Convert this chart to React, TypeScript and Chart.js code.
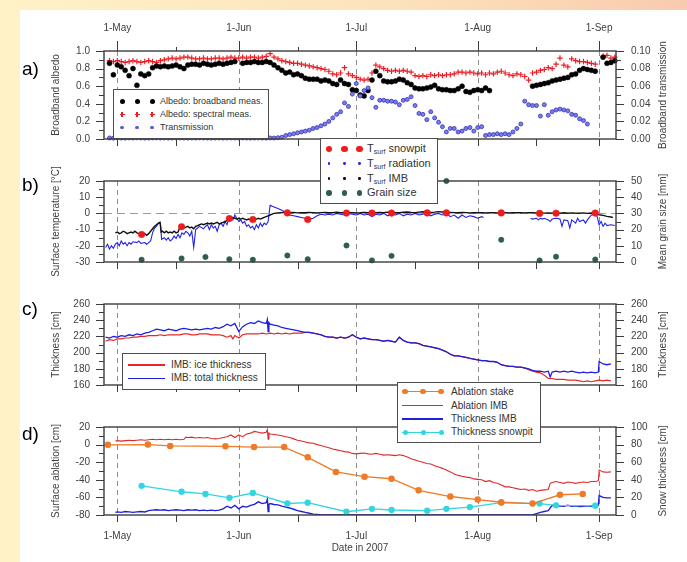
import React, { useEffect, useRef } from 'react';
import { Chart, registerables } from 'chart.js';

Chart.register(...registerables);

const FONT = '"Liberation Sans", Arial, Helvetica, sans-serif';
const INK = '#404040';
const FRAME = '#3c3c3c';

// x axis: days after 1 May 2007
const X_MIN = -3.4;
const X_MAX = 127.3;
const MONTH_DAYS = [0, 31, 61, 92, 123];
const MONTH_LABELS = ['1-May', '1-Jun', '1-Jul', '1-Aug', '1-Sep'];
const MID_MONTH_DAYS = [15, 46, 76, 107];

// ---------- panel a ----------
const ALBEDO_START_DAY = -2;
const ALBEDO_SPECTRAL: (number | null)[] = [
  0.89, 0.88, 0.89, 0.88, 0.87, 0.88, 0.89, 0.88, 0.87, 0.88, 0.89, 0.88, 0.87, 0.89,
  0.90, 0.91, 0.92, 0.91, 0.92, 0.93, 0.93, 0.92, 0.91, 0.91, 0.92, 0.91, 0.91, 0.92,
  0.92, 0.91, 0.92, 0.93, 0.92, 0.92, 0.93, 0.92, 0.93, 0.93, 0.92, 0.93, 0.94,
  0.97,
  0.93, 0.91, 0.89, 0.88, 0.87, 0.86, 0.86, 0.85, 0.84, 0.83, 0.82, 0.81, 0.80, 0.79,
  0.77, 0.74, 0.73, 0.75, 0.81, 0.74, 0.72, 0.70, 0.68, 0.67, 0.68, 0.75, 0.84, 0.82,
  0.80, 0.78, 0.77, 0.78, 0.77, 0.78, 0.77, 0.76, 0.72, 0.71, 0.72, 0.71, 0.73, 0.72,
  0.73, 0.72, 0.73, 0.73, 0.74, 0.76, 0.76, 0.75, 0.76, 0.75, 0.74, 0.75, 0.73, 0.75,
  0.74, 0.76, 0.77, 0.75, 0.73, 0.72, 0.74, 0.73, 0.71, 0.67, 0.75, 0.76, 0.78, 0.79,
  0.81, 0.80, 0.85, 0.92, 0.84, 0.82, 0.91, 0.89, 0.88, 0.88, 0.87, 0.86, 0.85,
  null, 0.94, 0.95, 0.92, 0.93,
];
const ALBEDO_BROADBAND: (number | null)[] = [
  0.86, 0.73, 0.84, 0.82, 0.78, 0.72, 0.80, 0.61, 0.74, 0.72, 0.74, 0.81, 0.83, 0.82,
  0.83, 0.82, 0.83, 0.84, 0.82, 0.80, 0.84, 0.85, 0.85, 0.84, 0.86, 0.85, 0.84, 0.85,
  0.86, 0.85, 0.86, 0.87, 0.88, null, 0.86, 0.87, 0.87, 0.88, 0.87, 0.87, 0.88, 0.87,
  0.84, 0.81, 0.78, 0.75, 0.76, 0.73, 0.74, 0.72, 0.69, 0.68, 0.68, 0.68, 0.66, 0.67,
  0.66, 0.63, 0.62, 0.67, 0.63, 0.62, 0.56, 0.55, 0.50, 0.49, 0.55, 0.67, 0.77, 0.72,
  0.66, 0.65, 0.65, 0.66, 0.68, 0.67, 0.64, 0.62, 0.58, 0.57, 0.57, 0.58, 0.59, 0.61,
  0.57, 0.56, 0.56, 0.55, 0.55, 0.57, 0.60, 0.54, 0.53, 0.55, 0.56, 0.55, 0.58, 0.55,
  null, null, null, null, null, null, null, null, null, null,
  0.60, 0.61, 0.62, 0.63, 0.64, 0.66, 0.67, 0.68, 0.69, 0.70, 0.73, 0.74, 0.78, 0.80,
  0.79, 0.78, 0.77, null, 0.93, 0.86, 0.87, 0.89,
];
const TRANSMISSION_START_DAY = -2;
const TRANSMISSION: number[] = [
  0.0012, 0.0010, 0.0013, 0.0011, 0.0010, 0.0012, 0.0011, 0.0013, 0.0012, 0.0010, 0.0011,
  0.0012, 0.0013, 0.0011, 0.0012, 0.0010, 0.0011, 0.0013, 0.0012, 0.0011, 0.0010, 0.0012,
  0.0011, 0.0013, 0.0012, 0.0011, 0.0010, 0.0011, 0.0012, 0.0010, 0.0011, 0.0012, 0.0011,
  0.0010, 0.0012, 0.0011, 0.0010, 0.0011, 0.0012, 0.0011, 0.0010, 0.0012, 0.0011, 0.0015,
  0.002, 0.004, 0.005, 0.006, 0.007, 0.008, 0.009, 0.010, 0.012, 0.013, 0.015, 0.017,
  0.020, 0.024, 0.028, 0.031, 0.041, 0.037, 0.051, 0.063, 0.049, 0.055, 0.058, 0.047,
  0.036, 0.044, 0.044, 0.043, 0.043, 0.042, 0.039, 0.044, 0.045, 0.048, 0.038, 0.029,
  0.028, 0.022, 0.031, 0.024, 0.019, 0.014, 0.008, 0.012, 0.012, 0.008, 0.009, 0.012,
  0.013, 0.009, 0.013, 0.014, 0.004, 0.005, 0.005, 0.006, 0.005, 0.006, 0.005, 0.008,
  0.012, 0.017, 0.043, 0.039, 0.038, 0.038, 0.026, 0.039, 0.027, 0.031, 0.033, 0.034,
  0.033, 0.032, 0.028, 0.027, 0.023, 0.021, 0.017,
];

// ---------- panel b ----------
const SNOWPIT_DAYS = [6.2, 16.4, 22.5, 28.6, 34.6, 43.4, 48.6, 58.5, 65, 70, 79.1, 84, 90, 98, 107.8, 112, 122];
const TSURF_SNOWPIT_DAYS = [6.2, 16.4, 28.6, 34.6, 43.4, 48.6, 58.5, 65, 70, 79.1, 84, 98, 107.8, 112, 122];
const TSURF_SNOWPIT = [-13, -8.2, -3.2, -3.8, 0.3, -3.8, 0.2, 0.2, 0.2, 0.3, 0.3, 0.3, 0, 0.1, 0.2];
const GRAIN_DAYS = [6.2, 16.4, 22.5, 28.6, 34.6, 43.4, 48.6, 58.5, 65, 70, 84, 98, 107.8, 112, 122];
const GRAIN_SIZE = [1.4, 2.2, 3.1, 1.7, 1.4, 4, 1.7, 10.2, 1, 3.8, 50, 13.7, 1, 3.3, 1.5];
const TSURF_RADIATION: [number, number | null][] = [
  [-3, -21], [-2.5, -19], [-2, -22], [-1.5, -20], [-1, -21.5], [-0.5, -19], [0, -18], [0.5, -20],
  [1, -17], [1.5, -19], [2, -18], [2.5, -20], [3, -18], [3.5, -19], [4, -17.5], [5, -18],
  [5.5, -17], [6, -18.5], [7, -18], [7.5, -19], [8, -18], [8.5, -17], [9, -12], [9.5, -9],
  [10, -8], [10.5, -6], [11, -6], [11.3, -16], [12, -15], [12.5, -16.5], [13, -15], [13.5, -17],
  [14, -16], [14.5, -14], [15, -15.5], [15.5, -13], [16, -15], [16.5, -12], [17, -13], [17.5, -11],
  [18, -12], [18.5, -14], [19, -11], [19.5, -21], [20, -10], [20.5, -9], [21, -8], [22, -9.5],
  [22.5, -8], [23, -7], [23.5, -10], [24, -7], [24.5, -9], [25, -8], [25.5, -11], [26, -7],
  [26.5, -6], [27, -8], [27.5, -5], [28, -7], [28.5, -3], [29, -2], [29.5, -4], [30, -1],
  [30.5, -3], [31, -5], [31.5, -4], [32, -6], [32.5, -5], [33, -8], [33.5, -7], [34, -9],
  [34.5, -8], [35, -10], [35.5, -7], [36, -9], [36.5, -6], [37, -8], [37.5, -6], [38, -7],
  [38.5, -5], [39, 5], [40, 4], [41, 3], [42, 2], [43, 0.5], [43.5, 0], [44, -1], [45, -1.5],
  [46, -2], [47, -2.5], [48, -3], [49, -3.5], [50, -3], [51, -1.5], [52, -0.5], [53, -1],
  [54, -0.5], [55, -1], [56, 0], [57, -0.5], [58, -1], [59, 0], [60, -0.5], [61, -1], [62, 0],
  [63, -1], [64, -0.5], [65, -2], [66, -0.5], [67, -1], [68, 0], [69, -1.5], [70, -0.5],
  [71, -1], [72, 0], [73, -1.5], [74, -0.5], [75, -1], [76, 0], [77, -1], [78, -0.5], [79, 0],
  [80, -1.5], [81, -0.5], [82, 0], [83, -1], [84, 0], [85, -2], [86, -1], [87, -3], [88, -1],
  [89, -2.5], [90, -1.5], [91, -2], [92, -3], [93, -2], [93.5, -2.5], [99, null],
  [105.5, -3], [106, -3.5], [107, -3], [107.5, -4], [108, -3], [108.5, -3.5], [109, -3],
  [110, -4], [110.5, -5], [111, -3.5], [112, -3], [113, -3.5], [113.5, -8], [114, -4],
  [115, -4.5], [115.5, -9], [116, -4], [117, -6], [117.5, -3], [118, -5], [119, -4],
  [119.5, -6], [120, -4], [121, -1], [122, -0.5], [122.5, -2], [123, -7], [123.5, -5],
  [124, -8], [124.5, -6], [125, -7.5], [126, -7], [127, -7.5],
];
const TSURF_IMB: [number, number][] = [
  [-0.5, -12], [0, -11.5], [0.5, -12.5], [1, -12], [1.5, -11], [2, -11.5], [2.5, -12.5], [3, -12],
  [3.5, -11.5], [4, -12], [4.5, -11], [5, -12], [5.5, -12.5], [6, -13], [6.5, -12], [7, -12.5],
  [7.5, -13.5], [8, -12.5], [8.5, -11], [9, -9.5], [9.5, -8], [10, -7], [10.5, -6], [10.9, -5.5],
  [11.2, -11.5], [11.5, -11], [12, -12], [12.5, -11], [13, -12], [13.5, -11.5], [14, -12],
  [14.5, -11], [15, -12], [15.5, -11.5], [16, -8.5], [16.5, -8], [17, -9], [17.5, -8.5], [18, -8],
  [18.5, -9], [19, -8.5], [19.5, -9.5], [20, -8], [20.5, -7.5], [21, -7], [21.5, -6.5], [22, -7],
  [22.5, -6.5], [23, -6], [23.5, -6.5], [24, -6], [24.5, -6.5], [25, -6], [25.5, -5.5], [26, -6.5],
  [26.5, -6], [27, -5.5], [27.5, -5], [28, -4.5], [28.5, -3.5], [29, -3], [29.5, -2.5], [30, -3],
  [30.5, -3.5], [31, -3], [31.5, -3.5], [32, -3], [32.5, -3.5], [33, -4], [33.5, -3.5], [34, -4],
  [34.5, -4.5], [35, -4], [35.5, -3.5], [36, -3], [36.5, -3.5], [37, -3], [37.5, -2.5], [38, -2],
  [38.5, -1.5], [39, -1], [39.5, -0.5], [40, 0], [41, 0.3], [42, 0.5], [43, 0.5], [44, 0.4],
  [45, 0.6], [46, 0.3], [47, 0.5], [48, 0.4], [49, 0.6], [50, 0.5], [51, 0.3], [52, 0.5],
  [53, 0.6], [54, 0.4], [55, 0.5], [56, 0.7], [57, 0.5], [58, 0.4], [59, 0.6], [60, 0.5],
  [61, 0.3], [62, 0.4], [63, 0.6], [64, 0.5], [65, 0.7], [66, 0.4], [67, 0.6], [68, 0.5],
  [69, 0.8], [70, 0.6], [71, 0.4], [72, 0.5], [73, 0.7], [74, 0.9], [75, 0.6], [76, 0.5],
  [77, 0.8], [78, 1.0], [79, 0.7], [80, 0.6], [81, 0.8], [82, 1.1], [83, 0.9], [84, 0.7],
  [85, 0.6], [86, 0.5], [87, 0.4], [88, 0.6], [89, 0.5], [90, 0.3], [91, 0.4], [92, 0.5],
  [93, 0.4], [94, 0.3], [95, 0.5], [96, 0.4], [97, 0.3], [98, 0.5], [99, 0.4], [100, 0.3],
  [101, 0.4], [102, 0.5], [103, 0.4], [104, 0.3], [105, 0.4], [106, 0.5], [107, 0.3], [108, 0.4],
  [109, 0.2], [110, 0.3], [111, 0.1], [112, 0.3], [113, 0.2], [114, 0.4], [115, 0.1], [116, 0.3],
  [117, 0.2], [118, 0.1], [119, 0.3], [120, 0.0], [121, 0.2], [122, -0.3], [123, -0.8],
  [124, -1.2], [125, -1.8], [126, -2.2], [126.5, -2.5],
];

// ---------- panel c ----------
const TOTAL_THICKNESS: [number, number][] = [
  [-3, 219], [-2, 218], [-1, 220], [0, 219], [1, 221], [2, 220], [3, 222], [4, 221], [5, 223],
  [6, 222], [7, 224], [8, 225], [9, 227], [10, 229], [11, 228], [12, 227], [13, 229], [14, 228],
  [15, 227], [16, 229], [17, 230], [18, 229], [19, 228], [20, 229], [21, 228], [22, 229],
  [23, 230], [24, 229], [25, 231], [26, 230], [27, 232], [28, 235], [29, 233], [30, 236],
  [31, 226], [32, 232], [33, 235], [34, 237], [35, 236], [36, 239], [37, 237], [38, 236],
  [38.3, 241], [38.5, 226], [38.7, 237], [39, 235], [40, 234], [41, 233], [42, 231], [43, 230],
  [44, 229], [45, 228], [46, 227], [47, 226], [48, 225], [49, 225], [50, 224], [51, 223],
  [52, 222], [53, 220], [54, 219], [55, 219], [56, 218], [57, 219], [58, 218], [59, 219],
  [60, 222], [61, 219], [62, 217], [63, 218], [64, 217], [65, 216], [66, 216], [67, 215],
  [68, 214], [69, 215], [70, 214], [71, 213], [72, 219], [73, 215], [74, 213], [75, 212],
  [76, 212], [77, 211], [78, 209], [79, 208], [80, 207], [81, 206], [82, 205], [83, 203],
  [84, 201], [85, 198], [86, 196], [87, 196], [88, 195], [89, 194], [90, 193], [91, 192],
  [92, 191], [93, 190], [94, 190], [95, 189], [96, 189], [97, 188], [98, 185], [99, 184],
  [100, 183], [101, 183], [102, 182], [103, 182], [104, 181], [105, 180], [106, 178], [107, 177],
  [108, 177], [109, 176], [110, 177], [110.5, 170], [111, 176], [112, 177], [113, 176],
  [114, 177], [115, 176], [116, 177], [117, 176], [118, 175], [119, 176], [120, 175], [121, 176],
  [122, 175], [122.8, 176], [123, 189], [124, 186], [125, 185], [126, 186],
];
const ICE_THICKNESS: [number, number][] = [
  [-3, 214], [-2, 216], [-1, 215], [0, 217], [1, 217], [2, 218], [3, 218], [4, 219], [5, 219],
  [6, 220], [7, 220], [8, 221], [9, 221], [10, 221], [11, 222], [12, 221], [13, 222], [14, 222],
  [15, 222], [16, 222], [17, 223], [18, 223], [19, 222], [20, 222], [21, 223], [22, 223],
  [23, 223], [24, 222], [25, 222], [26, 222], [27, 221], [28, 219], [29, 221], [29.5, 217],
  [30, 221], [31, 218], [32, 222], [33, 223], [34, 223], [35, 223], [36, 223], [37, 224],
  [38, 223], [39, 224], [40, 223], [41, 224], [42, 223], [43, 224], [44, 223], [45, 224],
  [46, 224], [47, 224], [48, 225], [49, 225], [50, 224], [51, 223], [52, 222], [53, 220],
  [54, 219], [55, 219], [56, 218], [57, 219], [58, 218], [59, 219], [60, 222], [61, 219],
  [62, 217], [63, 218], [64, 217], [65, 216], [66, 216], [67, 215], [68, 214], [69, 215],
  [70, 214], [71, 213], [72, 219], [73, 215], [74, 213], [75, 212], [76, 212], [77, 211],
  [78, 209], [79, 208], [80, 207], [81, 206], [82, 205], [83, 203], [84, 201], [85, 198],
  [86, 196], [87, 196], [88, 195], [89, 194], [90, 193], [91, 192], [92, 191], [93, 190],
  [94, 190], [95, 189], [96, 189], [97, 188], [98, 185], [99, 184], [100, 183], [101, 183],
  [102, 182], [103, 182], [104, 181], [105, 179], [106, 177], [107, 176], [108, 175], [109, 172],
  [110, 168], [111, 168], [112, 167], [113, 167], [114, 167], [115, 166], [116, 166], [117, 166],
  [118, 165], [119, 164], [120, 165], [121, 164], [122, 165], [123, 166], [124, 165], [125, 166],
  [126, 165],
];

// ---------- panel d ----------
const STAKE_DAYS = [-2.4, 7.8, 13.5, 27.6, 34.9, 42.6, 48.6, 55.8, 63.1, 70, 76.9, 85, 92, 98, 106, 113, 118.8];
const ABLATION_STAKE = [-0.3, 0, -1.5, -2, -2.8, -2.8, -14.5, -31, -36.5, -38.8, -52, -59, -62.5, -65.5, -67, -57, -56];
const SNOWPIT_THICKNESS = [33.2, 26.4, 24, 19.5, 25, 13.1, 14, 3.7, 7, 5.7, 4.9, 7, 9, 14, 13, 11, 10.6];
const ABLATION_IMB: [number, number][] = [
  [-0.5, 4], [0, 4.5], [1, 4], [2, 4.5], [3, 5], [4, 4.5], [5, 5], [6, 5.5], [7, 5], [8, 5.5],
  [9, 6], [10, 5.5], [11, 6], [12, 5.5], [13, 6], [14, 5.5], [15, 6], [16, 5.5], [17, 6],
  [17.5, 8.5], [18, 8], [19, 8.5], [20, 7.5], [21, 8], [22, 7.5], [23, 8], [24, 7], [25, 6.5],
  [26, 7], [27, 8], [28, 9], [29, 11], [30, 8], [31, 11], [32, 9], [33, 12], [34, 13], [35, 15],
  [36, 14], [37, 13], [38, 14], [38.3, 17], [38.5, 6], [38.7, 13], [39, 12], [40, 11.5],
  [41, 11], [42, 10], [43, 9], [44, 8], [45, 6.5], [46, 5], [47, 4], [48, 3], [49, 2],
  [50, 1.5], [51, 0], [52, -1], [53, -2.5], [54, -3.5], [55, -5], [56, -6], [57, -7], [58, -8],
  [59, -8.5], [60, -10], [61, -10.5], [62, -10], [63, -9.5], [64, -10.5], [65, -11], [66, -10],
  [67, -11], [68, -12], [69, -11.5], [70, -12], [71, -12.5], [72, -11.5], [73, -12.5], [74, -14],
  [75, -16], [76, -17.5], [77, -19], [78, -20], [79, -21.5], [80, -22], [81, -24], [82, -25.5],
  [83, -27], [84, -29], [85, -31], [86, -33.5], [87, -35], [88, -36], [89, -37], [90, -37.5],
  [91, -39], [92, -39.5], [93, -40], [94, -42], [95, -41], [96, -43], [97, -44], [98, -46],
  [99, -48], [100, -48], [101, -49], [102, -50], [103, -51], [104, -50.5], [105, -52],
  [106, -51], [107, -53], [108, -52], [109, -51.5], [110, -51], [110.5, -44], [111, -43],
  [112, -42], [113, -43], [114, -44], [115, -42.5], [116, -43], [117, -44], [118, -43],
  [119, -42.5], [120, -43], [121, -42], [122, -42], [122.8, -41], [123, -29], [124, -31],
  [125, -31.5], [126, -31],
];
const SNOW_THICKNESS_IMB: [number, number][] = [
  [-0.5, 3], [0, 3.5], [1, 3], [2, 4], [3, 3.5], [4, 3], [5, 3.5], [6, 4], [7, 3.5], [8, 5],
  [9, 5.5], [10, 6], [11, 5.5], [12, 6], [13, 5], [14, 5.5], [15, 6], [16, 5.5], [17, 5],
  [18, 6], [19, 5.5], [20, 6], [21, 5], [22, 5.5], [23, 5], [24, 5.5], [25, 5], [26, 5.5],
  [27, 7], [28, 10], [29, 8], [30, 11], [31, 7], [32, 10], [33, 9], [34, 11], [35, 12],
  [36, 15], [37, 13], [38, 14], [38.3, 18], [38.5, 4], [38.7, 12], [39, 13], [40, 12],
  [41, 11.5], [42, 10], [43, 9], [44, 8], [45, 6.5], [46, 5], [47, 4], [48, 3], [49, 2],
  [50, 1], [51, 0.5], [52, 0], [106, 0], [107, 1.5], [108, 3], [109, 4], [110, 5], [111, 11],
  [112, 10], [113, 10.5], [114, 10], [115, 11], [116, 10], [117, 10.5], [118, 9.5], [119, 10],
  [120, 10.5], [121, 10], [122, 10], [122.8, 11], [123, 22], [124, 20], [125, 19.5], [126, 19.5],
];

// ---------- helpers ----------
const daily = (start: number, vals: (number | null)[]) => vals.map((y, i) => ({ x: start + i, y }));
const pairs = (arr: [number, number | null][]) => arr.map(([x, y]) => ({ x, y }));
const zip = (xs: number[], ys: number[]) => xs.map((x, i) => ({ x, y: ys[i] }));

function markerSet(data: any[], opts: any) {
  return {
    data,
    showLine: false,
    pointStyle: opts.style || 'circle',
    pointRadius: opts.r,
    pointBackgroundColor: opts.fill,
    pointBorderColor: opts.stroke || opts.fill,
    pointBorderWidth: opts.bw ?? 0.5,
    yAxisID: opts.axis || 'y',
    clip: false,
  };
}
function lineSet(data: any[], color: string, width: number, axis = 'y', extra: any = {}) {
  return {
    data,
    showLine: true,
    borderColor: color,
    backgroundColor: color,
    borderWidth: width,
    pointRadius: 0,
    spanGaps: false,
    tension: 0,
    yAxisID: axis,
    ...extra,
  };
}

const decorPlugin = {
  id: 'decor',
  beforeDatasetsDraw(chart: any, _a: any, o: any) {
    const { ctx, chartArea: a } = chart;
    const xs = chart.scales.x;
    if (!xs) return;
    ctx.save();
    ctx.strokeStyle = '#8c8c8c';
    ctx.lineWidth = 1;
    ctx.setLineDash([5, 4]);
    ctx.beginPath();
    MONTH_DAYS.forEach((d) => {
      const px = Math.round(xs.getPixelForValue(d)) + 0.5;
      ctx.moveTo(px, a.top);
      ctx.lineTo(px, a.bottom);
    });
    ctx.stroke();
    if (o && o.zeroLine) {
      ctx.strokeStyle = '#9c9c9c';
      ctx.setLineDash([8, 5]);
      ctx.beginPath();
      const py = Math.round(chart.scales.y.getPixelForValue(0)) + 0.5;
      ctx.moveTo(a.left, py);
      ctx.lineTo(a.right, py);
      ctx.stroke();
    }
    ctx.restore();
  },
  afterDatasetsDraw(chart: any, _a: any, o: any) {
    const { ctx, chartArea: a } = chart;
    const xs = chart.scales.x;
    if (!xs || !o || !o.leftMinor) return;
    ctx.save();
    ctx.strokeStyle = FRAME;
    ctx.lineWidth = 1;
    ctx.beginPath();
    MONTH_DAYS.forEach((d) => {
      const px = Math.round(xs.getPixelForValue(d)) + 0.5;
      ctx.moveTo(px, a.bottom);
      ctx.lineTo(px, a.bottom + 7);
      if (o.topTicks) {
        ctx.moveTo(px, a.top);
        ctx.lineTo(px, a.top - 10);
      }
    });
    MID_MONTH_DAYS.forEach((d) => {
      const px = Math.round(xs.getPixelForValue(d)) + 0.5;
      ctx.moveTo(px, a.bottom);
      ctx.lineTo(px, a.bottom + 7);
      if (o.topTicks) {
        ctx.moveTo(px, a.top);
        ctx.lineTo(px, a.top - 4);
      }
    });
    const yTicks = (scale: any, minor: number, major: number, side: string) => {
      const n = Math.round((scale.max - scale.min) / minor);
      const every = Math.round(major / minor);
      for (let i = 0; i <= n; i++) {
        const py = Math.round(scale.getPixelForValue(scale.min + i * minor)) + 0.5;
        const len = i % every === 0 ? 8 : 5;
        if (side === 'left') {
          ctx.moveTo(a.left, py);
          ctx.lineTo(a.left - len, py);
        } else {
          ctx.moveTo(a.right, py);
          ctx.lineTo(a.right + len, py);
        }
      }
    };
    yTicks(chart.scales.y, o.leftMinor, o.leftMajor, 'left');
    yTicks(chart.scales.y1, o.rightMinor, o.rightMajor, 'right');
    ctx.stroke();
    ctx.lineWidth = 1.4;
    ctx.strokeRect(a.left, a.top, a.right - a.left, a.bottom - a.top);
    // right-hand axis title, reading bottom to top like the left one
    if (o.rightTitle) {
      ctx.translate(663, (a.top + a.bottom) / 2);
      ctx.rotate(-Math.PI / 2);
      ctx.fillStyle = INK;
      ctx.font = `10px ${FONT}`;
      ctx.textAlign = 'center';
      ctx.textBaseline = 'middle';
      ctx.fillText(o.rightTitle, 0, 0);
    }
    ctx.restore();
  },
};
Chart.register(decorPlugin);

type AxisSpec = { min: number; max: number; step: number; minor: number; dec: number; title: string };
type PanelSpec = {
  id: string;
  top: number;
  height: number;
  padTop: number;
  topAxisHeight?: number;
  bottomAxisHeight: number;
  bottomLabels?: boolean;
  xTitle?: string;
  zeroLine?: boolean;
  left: AxisSpec;
  right: AxisSpec;
  makeDatasets: () => any[];
};

const monthLabel = (v: number) => {
  const i = MONTH_DAYS.indexOf(Number(v));
  return i >= 0 ? MONTH_LABELS[i] : '';
};

function yAxis(s: AxisSpec, pos: 'left' | 'right') {
  const font = { family: FONT, size: 10 };
  return {
    type: 'linear',
    position: pos,
    min: s.min,
    max: s.max,
    afterFit: (sc: any) => {
      sc.width = pos === 'left' ? 53.7 : 52.7;
    },
    grid: { display: false, drawTicks: false },
    border: { display: false },
    ticks: {
      stepSize: s.step,
      padding: pos === 'left' ? 14 : 15,
      color: INK,
      font,
      callback: (v: any) => Number(v).toFixed(s.dec),
    },
    title: { display: pos === 'left', text: s.title, color: INK, font, padding: { top: 0, bottom: 0 } },
  };
}

function buildOptions(p: PanelSpec): any {
  const font = { family: FONT, size: 10 };
  const scales: any = {
    x: {
      type: 'linear',
      position: 'bottom',
      min: X_MIN,
      max: X_MAX,
      afterBuildTicks: (s: any) => {
        s.ticks = MONTH_DAYS.map((v) => ({ value: v }));
      },
      afterFit: (s: any) => {
        s.height = p.bottomAxisHeight;
      },
      grid: { display: false, drawTicks: false },
      border: { display: false },
      ticks: {
        display: !!p.bottomLabels,
        autoSkip: false,
        maxRotation: 0,
        minRotation: 0,
        padding: 15.5,
        color: INK,
        font,
        callback: (v: any) => monthLabel(v),
      },
      title: {
        display: !!p.xTitle,
        text: p.xTitle || '',
        color: INK,
        font,
        padding: { top: 0, bottom: 8 },
      },
    },
    y: yAxis(p.left, 'left'),
    y1: yAxis(p.right, 'right'),
  };
  if (p.topAxisHeight) {
    scales.xTop = {
      type: 'linear',
      position: 'top',
      min: X_MIN,
      max: X_MAX,
      afterBuildTicks: (s: any) => {
        s.ticks = MONTH_DAYS.map((v) => ({ value: v }));
      },
      afterFit: (s: any) => {
        s.height = p.topAxisHeight;
      },
      grid: { display: false, drawTicks: false },
      border: { display: false },
      ticks: {
        autoSkip: false,
        maxRotation: 0,
        minRotation: 0,
        padding: 16.7,
        color: INK,
        font,
        callback: (v: any) => monthLabel(v),
      },
    };
  }
  return {
    animation: false,
    responsive: false,
    maintainAspectRatio: false,
    events: [],
    layout: { padding: { top: p.padTop, bottom: 0, left: 50.3, right: 18.3 } },
    plugins: {
      legend: { display: false },
      tooltip: { enabled: false },
      decor: {
        topTicks: !!p.topAxisHeight,
        zeroLine: !!p.zeroLine,
        leftMinor: p.left.minor,
        leftMajor: p.left.step,
        rightMinor: p.right.minor,
        rightMajor: p.right.step,
        rightTitle: p.right.title,
      },
    },
    scales,
  };
}

const RED = '#ec1c24';
const BLUE_LINE = '#1f1fdc';

const PANELS: PanelSpec[] = [
  {
    id: 'a',
    top: 12,
    height: 148,
    padTop: 0,
    topAxisHeight: 39,
    bottomAxisHeight: 12,
    left: { min: 0, max: 1, step: 0.2, minor: 0.1, dec: 1, title: 'Broadband albedo' },
    right: { min: 0, max: 0.1, step: 0.02, minor: 0.01, dec: 2, title: 'Broadband transmission' },
    makeDatasets: () => [
      markerSet(daily(TRANSMISSION_START_DAY, TRANSMISSION), { r: 2, fill: '#7c7cee', stroke: '#3434b8', bw: 0.8, axis: 'y1' }),
      markerSet(daily(ALBEDO_START_DAY, ALBEDO_BROADBAND), { r: 2.5, fill: '#000', stroke: '#000' }),
      markerSet(daily(ALBEDO_START_DAY, ALBEDO_SPECTRAL), { r: 2.7, style: 'cross', fill: RED, stroke: RED, bw: 1.2 }),
    ],
  },
  {
    id: 'b',
    top: 160,
    height: 123,
    padTop: 13.3,
    bottomAxisHeight: 12,
    zeroLine: true,
    left: { min: -30, max: 20, step: 10, minor: 5, dec: 0, title: 'Surface temperature [°C]' },
    right: { min: 0, max: 50, step: 10, minor: 5, dec: 0, title: 'Mean grain size [mm]' },
    makeDatasets: () => [
      markerSet(zip(GRAIN_DAYS, GRAIN_SIZE), { r: 2.7, fill: '#2f5e4f', stroke: '#2f5e4f', axis: 'y1' }),
      markerSet(zip(TSURF_SNOWPIT_DAYS, TSURF_SNOWPIT), { r: 3.3, fill: '#ee1d1d', stroke: '#ee1d1d' }),
      lineSet(pairs(TSURF_IMB), '#111111', 1.4),
      lineSet(pairs(TSURF_RADIATION), '#2222e6', 1.1),
    ],
  },
  {
    id: 'c',
    top: 283,
    height: 123,
    padTop: 12,
    bottomAxisHeight: 12,
    left: { min: 160, max: 260, step: 20, minor: 10, dec: 0, title: 'Thickness [cm]' },
    right: { min: 160, max: 260, step: 20, minor: 10, dec: 0, title: 'Thickness [cm]' },
    makeDatasets: () => [
      lineSet(pairs(TOTAL_THICKNESS), BLUE_LINE, 1.3),
      lineSet(pairs(ICE_THICKNESS), '#e82626', 1.2),
    ],
  },
  {
    id: 'd',
    top: 406,
    height: 156,
    padTop: 12,
    bottomAxisHeight: 47,
    bottomLabels: true,
    xTitle: 'Date in 2007',
    left: { min: -80, max: 20, step: 20, minor: 10, dec: 0, title: 'Surface ablation [cm]' },
    right: { min: 0, max: 100, step: 20, minor: 10, dec: 0, title: 'Snow thickness [cm]' },
    makeDatasets: () => [
      lineSet(zip(STAKE_DAYS, ABLATION_STAKE), '#ef7a28', 1.3, 'y', {
        pointRadius: 2.6,
        pointBackgroundColor: '#ef7a28',
        pointBorderColor: '#ef7a28',
        clip: false,
      }),
      lineSet(zip(SNOWPIT_DAYS, SNOWPIT_THICKNESS), '#33d5e0', 1.3, 'y1', {
        pointRadius: 2.5,
        pointBackgroundColor: '#33d5e0',
        pointBorderColor: '#33d5e0',
        clip: false,
      }),
      lineSet(pairs(ABLATION_IMB), '#e02a2a', 1.1),
      lineSet(pairs(SNOW_THICKNESS_IMB), BLUE_LINE, 1.4, 'y1'),
    ],
  },
];

function Panel({ spec }: { spec: PanelSpec }) {
  const ref = useRef<HTMLCanvasElement>(null);
  useEffect(() => {
    const chart = new Chart(ref.current as HTMLCanvasElement, {
      type: 'scatter',
      data: { datasets: spec.makeDatasets() },
      options: buildOptions(spec),
    } as any);
    return () => chart.destroy();
  }, [spec]);
  return (
    <canvas
      ref={ref}
      width={687}
      height={spec.height}
      style={{ position: 'absolute', left: 0, top: spec.top, width: 687, height: spec.height }}
    />
  );
}

// ---------- legend pieces ----------
const Dot = ({ x, y, r, c }: { x: number; y: number; r: number; c: string }) => (
  <div style={{ position: 'absolute', left: x - r, top: y - r, width: 2 * r, height: 2 * r, borderRadius: '50%', background: c }} />
);
const Cross = ({ x, y, c }: { x: number; y: number; c: string }) => (
  <>
    <div style={{ position: 'absolute', left: x - 2.5, top: y - 0.6, width: 5, height: 1.2, background: c }} />
    <div style={{ position: 'absolute', left: x - 0.6, top: y - 2.5, width: 1.2, height: 5, background: c }} />
  </>
);
const Seg = ({ x1, x2, y, c, w }: { x1: number; x2: number; y: number; c: string; w: number }) => (
  <div style={{ position: 'absolute', left: x1, top: y - w / 2, width: x2 - x1, height: w, background: c }} />
);
const Txt = ({ x, y, size, children }: { x: number; y: number; size: number; children: any }) => (
  <div
    style={{
      position: 'absolute',
      left: x,
      top: y - size * 0.6,
      height: size * 1.2,
      lineHeight: `${size * 1.2}px`,
      fontSize: size,
      color: '#333',
      whiteSpace: 'nowrap',
      fontFamily: FONT,
    }}
  >
    {children}
  </div>
);
const Box = ({ l, t, w, h, children }: { l: number; t: number; w: number; h: number; children: any }) => (
  <div
    style={{
      position: 'absolute',
      left: l,
      top: t,
      width: w,
      height: h,
      background: '#fff',
      outline: '1.5px solid #4c4c4c',
      outlineOffset: '-1.5px',
    }}
  >
    {children}
  </div>
);
const Tsurf = ({ rest }: { rest: string }) => (
  <span>
    T<span style={{ fontSize: 7, position: 'relative', top: 2 }}>surf</span> {rest}
  </span>
);

const PANEL_TAGS = [
  { t: 'a)', y: 69 },
  { t: 'b)', y: 185 },
  { t: 'c)', y: 309 },
  { t: 'd)', y: 434 },
];

export default function App() {
  const m3 = [9, 24, 39];
  const mb = [9, 24.5, 39.5];
  return (
    <div
      style={{
        position: 'absolute',
        left: 0,
        top: 0,
        width: 687,
        height: 562,
        overflow: 'hidden',
        background: '#fff2c6',
        fontFamily: FONT,
      }}
    >
      <div
        style={{
          position: 'absolute',
          left: 0,
          top: 0,
          width: 687,
          height: 10,
          background: 'linear-gradient(to right, #fff2c6 0%, #fde3bd 55%, #f9cbae 100%)',
        }}
      />
      <div style={{ position: 'absolute', left: 20, top: 10, right: 0, bottom: 0, background: '#fff' }} />
      {PANELS.map((p) => (
        <Panel key={p.id} spec={p} />
      ))}
      {PANEL_TAGS.map((g) => (
        <div
          key={g.t}
          style={{
            position: 'absolute',
            left: 22,
            top: g.y - 11,
            fontSize: 19,
            lineHeight: '22px',
            color: '#000',
            fontFamily: FONT,
          }}
        >
          {g.t}
        </div>
      ))}

      {/* legend a */}
      <Box l={113} t={89} w={156} h={50}>
        {m3.map((x) => <Dot key={'k' + x} x={x} y={12.5} r={2.5} c="#000" />)}
        {m3.map((x) => <Cross key={'r' + x} x={x} y={25.8} c={RED} />)}
        {m3.map((x) => <Dot key={'b' + x} x={x} y={38.5} r={1.9} c="#5a5ad8" />)}
        <Txt x={47} y={12.5} size={9}>Albedo: broadband meas.</Txt>
        <Txt x={47} y={25.8} size={9}>Albedo: spectral meas.</Txt>
        <Txt x={47} y={38.5} size={9}>Transmission</Txt>
      </Box>

      {/* legend b */}
      <Box l={320} t={138} w={118} h={66}>
        {mb.map((x) => <Dot key={'r' + x} x={x} y={11} r={3.2} c="#ee1d1d" />)}
        {mb.map((x) => <Dot key={'b' + x} x={x} y={25.5} r={1.4} c="#2222e6" />)}
        {mb.map((x) => <Dot key={'k' + x} x={x} y={40.5} r={1.2} c="#111" />)}
        {mb.map((x) => <Dot key={'g' + x} x={x} y={55} r={2.8} c="#2f5e4f" />)}
        <Txt x={47} y={11} size={11}><Tsurf rest="snowpit" /></Txt>
        <Txt x={47} y={25.5} size={11}><Tsurf rest="radiation" /></Txt>
        <Txt x={47} y={40.5} size={11}><Tsurf rest="IMB" /></Txt>
        <Txt x={47} y={55} size={11}>Grain size</Txt>
      </Box>

      {/* legend c */}
      <Box l={122} t={353} w={144} h={37}>
        <Seg x1={6} x2={43} y={12} c="#e82626" w={1.3} />
        <Seg x1={6} x2={43} y={25.3} c={BLUE_LINE} w={1.5} />
        <Txt x={49} y={12} size={10}>IMB: ice thickness</Txt>
        <Txt x={49} y={25.3} size={10}>IMB: total thickness</Txt>
      </Box>

      {/* legend d */}
      <Box l={397} t={382} w={144} h={61}>
        <Seg x1={5} x2={46} y={9.7} c="#ef7a28" w={1.3} />
        {[8, 26, 44].map((x) => <Dot key={'o' + x} x={x} y={9.7} r={2.6} c="#ef7a28" />)}
        <Seg x1={5} x2={46} y={23.7} c="#e02a2a" w={1.2} />
        <Seg x1={5} x2={46} y={37} c={BLUE_LINE} w={2} />
        <Seg x1={5} x2={46} y={50.3} c="#33d5e0" w={1.3} />
        {[8, 26, 44].map((x) => <Dot key={'c' + x} x={x} y={50.3} r={2.5} c="#33d5e0" />)}
        <Txt x={54} y={9.7} size={10}>Ablation stake</Txt>
        <Txt x={54} y={23.7} size={10}>Ablation IMB</Txt>
        <Txt x={54} y={37} size={10}>Thickness IMB</Txt>
        <Txt x={54} y={50.3} size={10}>Thickness snowpit</Txt>
      </Box>
    </div>
  );
}
